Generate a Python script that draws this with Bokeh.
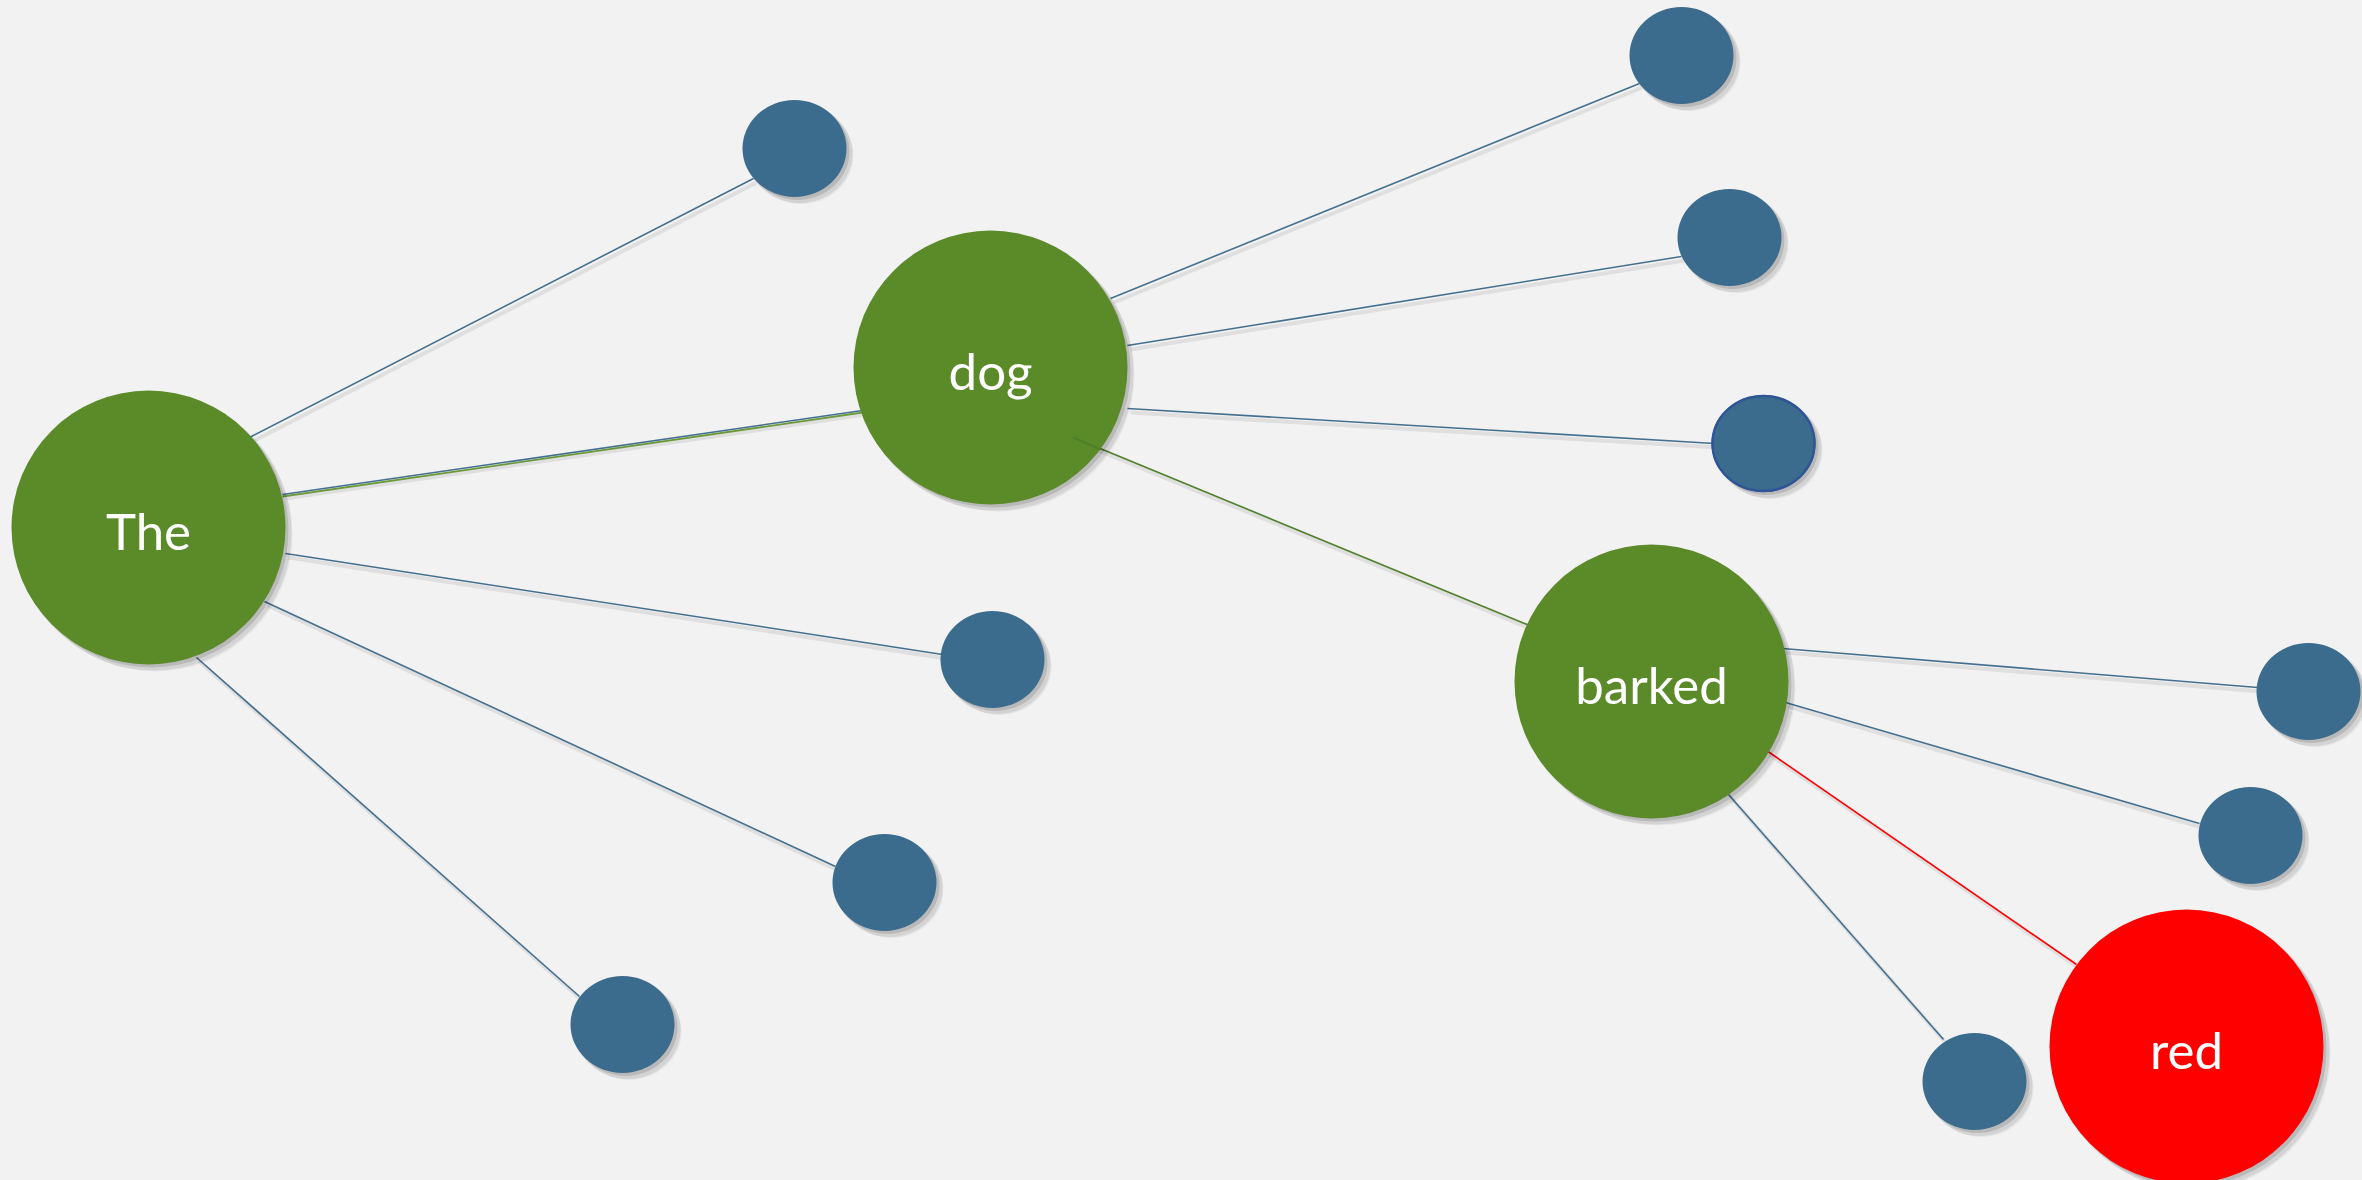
from bokeh.plotting import figure
from bokeh.models import Range1d
from bokeh.embed import file_html
from bokeh.resources import INLINE
from bokeh.core.properties import value

# ---- data ----
big_labels = ["The", "dog", "barked", "red"]
big_x = [148, 990, 1651, 2186]
big_y = [527, 367, 681, 1046]
big_colors = ["#5B8A29", "#5B8A29", "#5B8A29", "#FF0000"]

small_x = [794, 1681, 1729, 1763, 992, 884, 622, 2308, 2250, 1974]
small_y = [148, 55, 237, 443, 659, 882, 1024, 691, 835, 1081]
small_outline = [None, None, None, "#2F5597", None, None, None, None, None, None]

edge_x0 = [249, 1110, 1127, 1127, 285, 264, 196, 1782, 1785, 1728, 282, 1073, 1766]
edge_y0 = [437, 298, 345, 408, 553, 601, 657, 648, 702, 794, 494, 437, 750]
edge_x1 = [753, 1639, 1681, 1714, 942, 835, 579, 2257, 2199, 1943, 862, 1529, 2076]
edge_y1 = [178, 83, 256, 443, 654, 866, 996, 687, 823, 1039, 410, 625, 964]
edge_colors = ["#44708F"] * 10 + ["#44708F", "#4E7F2A", "#FF0000"]

W, H = 2362, 1180
BG = "#F2F2F2"

p = figure(width=W, height=H, output_backend="svg", toolbar_location=None,
           x_range=Range1d(0, W), y_range=Range1d(H, 0),
           min_border=0, background_fill_color=BG, border_fill_color=BG,
           outline_line_color=None)
p.axis.visible = False
p.grid.visible = False

# edge shadows
p.segment([x + 3 for x in edge_x0], [y + 4 for y in edge_y0],
          [x + 3 for x in edge_x1], [y + 4 for y in edge_y1],
          line_color="#000000", line_alpha=0.08, line_width=4)
# green companion line under The->dog edge
p.segment([edge_x0[10]], [edge_y0[10] + 2], [edge_x1[10]], [edge_y1[10] + 2],
          line_color="#6C9A3A", line_width=1.8)
# edges
p.segment(edge_x0, edge_y0, edge_x1, edge_y1, line_color=edge_colors, line_width=1.6)

# node shadows
for off, grow, a in [(7, 0, 0.05), (5, 2, 0.08), (3, 0, 0.12)]:
    p.ellipse([x + off for x in big_x], [y + off for y in big_y],
              width=274 + grow, height=274 + grow,
              fill_color="#000000", fill_alpha=a, line_color=None)
    p.ellipse([x + off for x in small_x], [y + off for y in small_y],
              width=104 + grow, height=97 + grow,
              fill_color="#000000", fill_alpha=a, line_color=None)

# nodes
p.ellipse(big_x, big_y, width=274, height=274, fill_color=big_colors, line_color=None)
p.ellipse(small_x, small_y, width=104, height=97, fill_color="#3B6B8D", line_color=None)
ox = [x for x, o in zip(small_x, small_outline) if o]
oy = [y for y, o in zip(small_y, small_outline) if o]
p.ellipse(ox, oy, width=102, height=95, fill_color=None, line_color="#2F5597", line_width=2.5)

# the darker green stub inside "dog"
p.segment([1073], [437], [1100], [449], line_color="#4E7F2A", line_width=2)

p.text(big_x, [y + 3 for y in big_y], text=big_labels, text_color="white",
       text_font=value("Lato"), text_font_size="51px",
       text_align="center", text_baseline="middle")

html = file_html(p, INLINE)
html = html.replace("<head>", "<head><style>html,body{background:#F2F2F2;}</style>", 1)
open("out.html", "w").write(html)
